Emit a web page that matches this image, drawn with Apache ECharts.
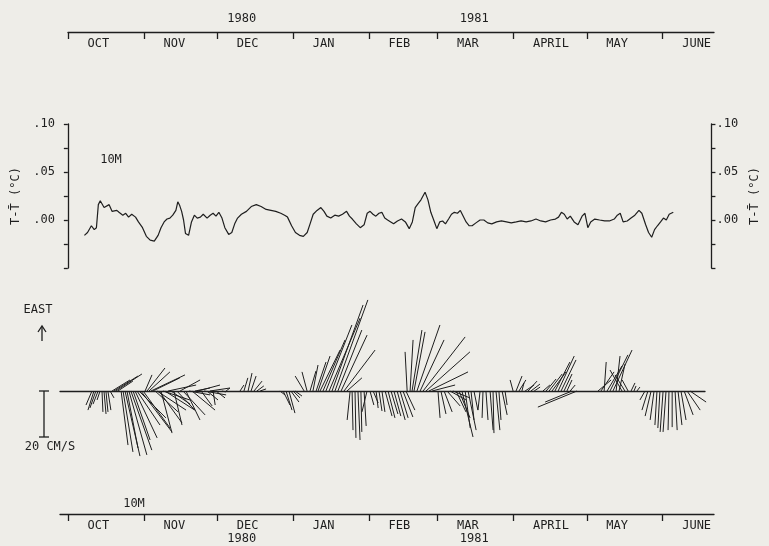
<!DOCTYPE html>
<html>
<head>
<meta charset="utf-8">
<script src="https://cdn.jsdelivr.net/npm/echarts@6/dist/echarts.min.js"></script>
<style>
  html, body { margin: 0; padding: 0; background: #eeede8; }
  #chart { width: 769px; height: 546px; }
</style>
</head>
<body>
<div id="chart"></div>
<script>
// Calendar axis: days counted from 1 October 1980
const months = ['OCT', 'NOV', 'DEC', 'JAN', 'FEB', 'MAR', 'APRIL', 'MAY', 'JUNE'];
const monthStartDay = [0, 31, 61, 92, 123, 151, 182, 212, 243];
const years = ['1980', '1981'];
const yearDay = [71, 166];

// Temperature anomaly at 10 m (deg C)
const tempDay = [6.9, 8.2, 9.8, 11.0, 11.9, 12.7, 13.5, 14.3, 15.1, 15.9, 17.2, 18.4, 19.2, 20.4, 21.3, 22.9, 24.1, 25.3, 26.6, 28.2,
  29.4, 31.1, 32.7, 34.3, 36.0, 37.6, 38.8, 40.1, 41.3, 42.5, 43.7, 45.0, 45.8, 46.6, 47.4, 48.2, 49.0, 50.3, 51.5, 52.7,
  53.9, 55.2, 56.4, 58.0, 59.3, 60.5, 61.7, 62.9, 64.2, 65.4, 67.0, 68.3, 69.5, 70.7, 72.3, 74.4, 76.4, 78.5, 80.5, 82.6,
  84.6, 86.6, 88.7, 90.3, 91.5, 93.2, 94.8, 96.5, 98.1, 99.7, 100.9, 102.2, 103.8, 105.4, 106.7, 107.9, 109.5, 111.2, 112.8, 114.4,
  116.1, 117.3, 118.5, 120.2, 121.8, 123.4, 124.7, 125.9, 127.1, 128.3, 129.6, 130.8, 132.0, 133.2, 134.5, 135.7, 137.3, 139.0, 140.6, 142.2,
  143.5, 144.7, 145.9, 147.1, 148.8, 150.0, 151.2, 152.4, 153.7, 154.9, 156.1, 157.3, 158.6, 159.8, 161.0, 162.3, 163.5, 164.7, 165.9, 167.2,
  168.4, 170.0, 171.7, 173.3, 174.9, 176.6, 178.6, 180.6, 182.7, 184.7, 186.8, 188.8, 190.9, 192.9, 195.0, 197.0, 199.0, 201.1, 203.1, 204.4,
  205.6, 206.8, 208.0, 209.3, 210.9, 212.5, 214.2, 215.4, 216.6, 217.8, 219.5, 221.5, 223.6, 225.6, 227.6, 228.9, 230.1, 231.3, 233.0, 234.6,
  236.2, 237.9, 239.1, 240.7, 241.9, 243.2, 244.4, 245.6, 246.9, 248.1, 249.3, 250.5, 252.2];
const tempValue = [-0.016, -0.013, -0.006, -0.010, -0.008, 0.016, 0.020, 0.018, 0.013, 0.015, 0.016, 0.009, 0.007, 0.010, 0.008, 0.005, 0.007, 0.003, 0.006, 0.003,
  -0.002, -0.008, -0.017, -0.021, -0.022, -0.016, -0.008, -0.002, 0.001, 0.002, 0.005, 0.010, 0.019, 0.015, 0.009, 0.000, -0.014, -0.016, -0.002, 0.005,
  0.002, 0.003, 0.006, 0.002, 0.005, 0.007, 0.004, 0.008, 0.002, -0.008, -0.015, -0.013, -0.004, 0.002, 0.006, 0.009, 0.014, 0.016, 0.014, 0.011,
  0.010, 0.009, 0.007, 0.005, 0.003, -0.006, -0.013, -0.016, -0.017, -0.013, -0.004, 0.006, 0.010, 0.013, 0.009, 0.004, 0.002, 0.005, 0.004, 0.006,
  0.009, 0.004, 0.001, -0.004, -0.008, -0.005, 0.007, 0.009, 0.006, 0.004, 0.007, 0.008, 0.002, 0.000, -0.002, -0.004, -0.001, 0.001, -0.002, -0.009,
  -0.002, 0.013, 0.017, 0.021, 0.029, 0.021, 0.008, 0.000, -0.009, -0.002, -0.001, -0.004, 0.001, 0.006, 0.008, 0.007, 0.010, 0.004, -0.002, -0.006,
  -0.006, -0.003, 0.000, 0.000, -0.003, -0.004, -0.002, -0.001, -0.002, -0.003, -0.002, -0.001, -0.002, -0.001, 0.001, -0.001, -0.002, 0.000, 0.001, 0.003,
  0.008, 0.006, 0.001, 0.004, -0.002, -0.005, 0.004, 0.007, -0.008, -0.002, 0.001, 0.000, -0.001, -0.001, 0.001, 0.005, 0.007, -0.002, -0.001, 0.002,
  0.005, 0.010, 0.007, -0.005, -0.013, -0.018, -0.010, -0.006, -0.002, 0.002, 0.000, 0.006, 0.008];

// Current vectors at 10 m (cm/s): east component plotted upward, north along the time axis
const stickDay = [9.8, 10.6, 11.4, 12.3, 13.1, 13.9, 14.7, 15.5, 16.3, 17.2, 18.0, 18.8, 19.6, 20.4,
  21.7, 22.5, 23.3, 24.1, 24.9, 25.7, 26.6, 27.4, 28.2, 29.0, 29.8, 30.7, 31.5, 32.3, 33.1, 33.9, 34.7, 35.6, 36.4, 37.2, 38.0, 38.8, 39.6,
  40.9, 42.1, 43.3, 44.5, 45.8, 47.0, 48.2, 49.5, 50.7, 51.9, 53.1, 54.4, 55.6, 56.8, 58.0, 59.3, 60.5,
  62.9, 64.6, 70.3, 71.9, 73.6, 74.8, 76.0, 77.2, 78.5, 86.6, 87.9, 89.1, 90.3, 91.1, 92.0, 92.8,
  96.5, 97.7, 98.9, 100.1, 101.4, 102.2, 103.0, 104.2, 105.4, 106.7, 107.9, 109.1, 110.3, 111.6, 112.8, 114.0,
  115.3, 116.1, 117.3, 118.5, 119.7, 121.0, 122.2, 123.4, 124.7, 125.9, 127.1, 128.3, 129.6, 130.8, 132.0, 133.2, 134.5, 135.7, 136.9, 138.1,
  138.6, 139.8, 140.6, 141.4, 142.6, 143.9, 145.1, 146.3, 147.5, 148.8,
  151.2, 152.4, 153.7, 154.9, 156.1, 157.3, 158.6, 159.8, 161.0, 162.3, 163.5, 164.7, 165.9,
  168.4, 169.6, 170.8, 172.5, 173.7, 174.9, 176.1, 177.4, 178.6,
  181.9, 183.1, 184.3, 185.5, 186.8, 188.0, 189.2, 190.5,
  194.1, 195.4, 196.6, 197.8, 199.0, 200.3, 201.5, 202.7, 203.9, 205.2, 206.0, 208.0,
  216.6, 217.8, 219.1, 220.3, 221.5, 222.7, 224.0, 225.2, 226.4, 227.6, 228.9, 230.1, 231.3, 232.5,
  235.8, 237.0, 238.3, 239.5, 240.7, 241.9, 243.2, 244.4, 245.6, 246.9, 248.1, 249.3, 250.5, 251.8, 253.0, 254.2];
const stickEast = [-6.1, -8.3, -7.4, -5.7, -3.9, -9.1, -10.0, -9.1, -8.3, -3.0, 4.8, 6.5, 7.4, 4.3,
  -23.5, -26.5, -28.3, -24.8, -27.8, -25.7, -21.3, -20.4, -14.8, -11.7, -17.8, -16.1, 7.0, 10.0, 8.3, 7.0, 5.7, -9.1, -8.3, -13.9, -18.3, -3.9, -8.3,
  2.6, -5.7, -14.8, -8.3, 4.8, -10.4, -12.6, -1.7, -8.3, 1.3, 2.6, -6.5, -1.7, -3.9, 1.3, -6.1, -3.0,
  -0.4, 1.3, 2.6, 5.7, 7.8, 6.5, 4.3, 2.2, 0.9, -1.7, -6.1, -8.3, -9.6, -4.8, -3.0, -2.2,
  6.5, 8.3, 8.7, 11.3, 12.6, 15.2, 17.8, 22.2, 28.7, 31.7, 37.4, 39.6, 26.5, 24.3, 17.8, 5.7,
  -12.6, -17.0, -20.4, -21.3, -17.8, -15.2, -9.1, -6.1, -5.2, -7.4, -8.7, -9.1, -10.9, -11.7, -10.0, -10.9, -12.6, -11.7, -11.3, -8.3,
  17.0, 22.2, 26.5, 25.7, 28.7, 22.2, 23.5, 17.0, 8.3, 2.6,
  -11.7, -10.0, -9.1, -6.5, -3.9, -3.0, -9.1, -11.7, -20.0, -16.1, -17.0, -12.6, -8.3,
  -8.3, -11.7, -12.6, -17.0, -18.3, -17.0, -12.6, -10.4, -6.1,
  4.8, 6.5, 4.8, 3.5, 2.6, 4.3, 3.0, 1.7,
  2.6, 5.2, 7.4, 8.3, 12.6, 15.2, 13.5, 7.4, 4.8, 2.6, -4.8, -7.0,
  4.8, 8.3, 12.6, 10.9, 15.7, 17.8, 15.2, 11.7, 9.1, 7.0, 4.8, 3.5, 2.2, 1.7,
  -3.9, -8.3, -10.9, -12.6, -14.8, -16.1, -17.8, -17.8, -17.0, -15.7, -17.0, -14.8, -12.6, -10.4, -8.3, -4.8];
const stickNorth = [-2.6, -2.6, -2.6, -2.2, -1.3, 0.4, 0.9, 0.9, 1.3, 1.7, 7.8, 10.4, 11.3, 6.5,
  3.0, 4.3, 6.5, 4.8, 7.8, 9.1, 7.4, 9.6, 10.0, 11.7, 13.5, 11.7, 3.0, 7.8, 9.1, 14.8, 11.7, 10.0, 12.6, 10.0, 4.8, 11.7, 13.0,
  12.2, 8.3, 3.5, 7.8, 8.7, 9.6, 6.1, 9.1, 10.0, 6.5, 9.6, 4.8, 9.6, 4.8, 8.7, 0.9, 3.9,
  1.7, 1.7, 1.7, 1.7, 1.7, 2.2, 3.5, 3.0, 2.6, 2.2, 3.0, 2.6, 2.6, 3.5, 3.0, 3.0,
  -3.9, -2.2, 2.6, 2.2, 4.3, 5.2, 8.7, 9.6, 11.3, 13.5, 13.5, 14.3, 10.4, 11.3, 13.5, 6.5,
  -1.3, 0.4, 0.4, 0.9, 0.4, 0.9, -2.2, 1.7, 2.2, 0.9, 1.3, 1.3, 3.0, 3.0, 3.0, 3.0, 3.5, 3.5, 4.3, 3.9,
  -0.9, 1.3, 4.3, 4.8, 10.0, 10.4, 18.3, 19.1, 17.0, 10.0,
  0.9, 2.2, 3.5, 5.7, 7.0, 7.4, 4.3, 4.8, 4.8, 2.2, 3.5, 1.3, 1.7,
  -0.9, -0.4, 0.9, 1.3, 0.4, 1.7, 0.9, 2.2, 0.9,
  -1.3, 2.6, 3.0, 0.9, 3.9, 3.9, 3.9, 2.6,
  3.0, 4.3, 5.7, 6.1, 6.5, 7.0, 6.5, 3.5, 2.2, 2.2, -11.7, -17.0,
  5.7, 5.7, 0.9, 6.5, 7.8, 8.3, 1.7, 2.6, -5.2, -4.3, -2.6, 1.7, 0.9, 1.3,
  -2.2, -2.6, -2.6, -1.7, -0.9, -0.9, -1.3, -1.3, -0.4, 0.0, 0.9, 1.7, 2.2, 3.9, 5.7, 7.0];

// ---- layout ----
const INK = '#1e1e1e';
const FONT = 'DejaVu Sans Mono';
const AXIS_LEFT = 68, AXIS_RIGHT = 714, SPAN_DAYS = 264;
const dayAt = px => (px - AXIS_LEFT) * SPAN_DAYS / (AXIS_RIGHT - AXIS_LEFT);

const TEMP_LEFT = 60, TEMP_RIGHT = 724, TEMP_TOP = 124, TEMP_BOTTOM = 268;
const STICK_LEFT = 60, STICK_RIGHT = 705, STICK_TOP = 291, STICK_HEIGHT = 200, STICK_RANGE = 43.48;

function monthAxis(gridIndex, minDay) {
  return {
    type: 'value', gridIndex: gridIndex, min: minDay, max: SPAN_DAYS, position: 'bottom',
    axisLine: { show: true, onZero: false, lineStyle: { color: INK, width: 1.3 } },
    axisTick: { show: true, customValues: monthStartDay, length: 7, inside: false, lineStyle: { color: INK, width: 1.3 } },
    axisLabel: {
      customValues: monthStartDay.map(d => d + 8),
      formatter: v => {
        let best = 0;
        monthStartDay.forEach((d, i) => { if (Math.abs(d + 8 - v) < Math.abs(monthStartDay[best] + 8 - v)) best = i; });
        return months[best];
      },
      align: 'left', margin: 6, color: INK, fontFamily: FONT, fontSize: 12
    },
    splitLine: { show: false }
  };
}

const tempTickLabel = v => {
  const hundredths = Math.round(v * 100);
  if (v < -1e-9 || Math.abs(v * 20 - Math.round(v * 20)) > 1e-6) return '';
  return '.' + String(hundredths).padStart(2, '0');
};

const tempYAxis = (position, gap) => ({
  type: 'value', gridIndex: 1, position: position, min: -0.05, max: 0.10, interval: 0.025,
  name: 'T-T\u0304 (°C)', nameLocation: 'middle', nameRotate: 90, nameGap: gap,
  nameTextStyle: { color: INK, fontFamily: FONT, fontSize: 12 },
  axisLine: { show: true, lineStyle: { color: INK, width: 1.3 } },
  axisTick: { show: true, length: 4, lineStyle: { color: INK, width: 1.3 } },
  axisLabel: { formatter: tempTickLabel, color: INK, fontFamily: FONT, fontSize: 12, margin: 5, showMinLabel: true, showMaxLabel: true },
  splitLine: { show: false }
});

const chart = echarts.init(document.getElementById('chart'), null, { renderer: 'canvas' });

const option = {
  backgroundColor: '#eeede8',
  animation: false,
  grid: [
    { left: AXIS_LEFT, width: AXIS_RIGHT - AXIS_LEFT, top: 20, height: 12 },
    { left: TEMP_LEFT, width: TEMP_RIGHT - TEMP_LEFT, top: TEMP_TOP, height: TEMP_BOTTOM - TEMP_TOP },
    { left: STICK_LEFT, width: STICK_RIGHT - STICK_LEFT, top: STICK_TOP, height: STICK_HEIGHT },
    { left: 60, width: AXIS_RIGHT - 60, top: 502, height: 12 }
  ],
  xAxis: [
    monthAxis(0, 0),
    { type: 'value', gridIndex: 1, min: dayAt(TEMP_LEFT), max: dayAt(TEMP_RIGHT), show: false },
    {
      type: 'value', gridIndex: 2, min: dayAt(STICK_LEFT), max: dayAt(STICK_RIGHT),
      axisLine: { show: true, onZero: true, lineStyle: { color: INK, width: 1.3 } },
      axisTick: { show: false }, axisLabel: { show: false }, splitLine: { show: false }
    },
    monthAxis(3, dayAt(60))
  ],
  yAxis: [
    { type: 'value', gridIndex: 0, show: false },
    tempYAxis('left', 38),
    tempYAxis('right', 21),
    { type: 'value', gridIndex: 2, min: -STICK_RANGE, max: STICK_RANGE, show: false },
    { type: 'value', gridIndex: 3, show: false }
  ],
  series: [
    {
      type: 'line', xAxisIndex: 1, yAxisIndex: 1,
      data: tempDay.map((d, i) => [d, tempValue[i]]),
      showSymbol: false, symbol: 'none',
      lineStyle: { color: INK, width: 1.2 }
    },
    {
      type: 'custom', xAxisIndex: 2, yAxisIndex: 3, clip: false,
      data: stickDay.map((d, i) => [d, stickEast[i], stickNorth[i]]),
      renderItem: (params, api) => {
        const base = api.coord([api.value(0), 0]);
        const unit = api.size([0, 1])[1];
        return {
          type: 'line',
          shape: {
            x1: base[0], y1: base[1],
            x2: base[0] + api.value(2) * unit,
            y2: base[1] - api.value(1) * unit
          },
          style: { stroke: INK, lineWidth: 1 }
        };
      }
    }
  ]
};

chart.setOption(option);

// Annotations placed from the axis scales
const y0 = chart.convertToPixel({ yAxisIndex: 3 }, 0);
const y20 = chart.convertToPixel({ yAxisIndex: 3 }, -20);
const label = (text, x, y, size) => ({
  type: 'text', x: x, y: y,
  style: { text: text, fill: INK, font: (size || 12) + 'px "' + FONT + '"', align: 'center', verticalAlign: 'middle' }
});
const graphics = [];
years.forEach((yr, i) => {
  const x = chart.convertToPixel({ xAxisIndex: 0 }, yearDay[i]);
  graphics.push(label(yr, x, 19));
  graphics.push(label(yr, x, 539));
});
graphics.push(label('10M', 111, 160));
graphics.push(label('10M', 134, 504));
graphics.push(label('EAST', 38, 310));
graphics.push(label('20 CM/S', 50, 447));
// north-up arrow under EAST
graphics.push({ type: 'line', shape: { x1: 42, y1: 327, x2: 42, y2: 341 }, style: { stroke: INK, lineWidth: 1.3 } });
graphics.push({ type: 'polyline', shape: { points: [[38, 332], [42, 326], [46, 332]] }, style: { stroke: INK, lineWidth: 1.3, fill: null } });
// 20 cm/s scale bar
graphics.push({ type: 'line', shape: { x1: 44, y1: y0, x2: 44, y2: y20 }, style: { stroke: INK, lineWidth: 1.3 } });
graphics.push({ type: 'line', shape: { x1: 39, y1: y0, x2: 49, y2: y0 }, style: { stroke: INK, lineWidth: 1.3 } });
graphics.push({ type: 'line', shape: { x1: 39, y1: y20, x2: 49, y2: y20 }, style: { stroke: INK, lineWidth: 1.3 } });
chart.setOption({ graphic: graphics });
</script>
</body>
</html>
